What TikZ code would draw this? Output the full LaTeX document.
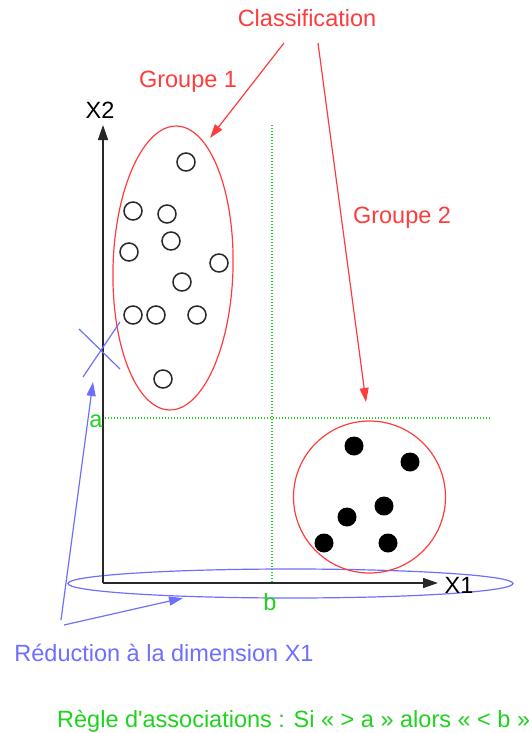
\documentclass[tikz,border=0pt]{standalone}
\usepackage{fontspec}
\setmainfont{Liberation Sans}
\newfontfamily\plainsans{Liberation Sans}
\usetikzlibrary{arrows.meta,shapes.geometric}
\definecolor{myred}{RGB}{255,60,60}
\definecolor{myblue}{RGB}{110,110,255}
\definecolor{mygreen}{RGB}{30,210,30}
\definecolor{axisgray}{RGB}{40,40,40}
\tikzset{
  lbl/.style={font=\plainsans\fontsize{23.5}{28}\selectfont, inner sep=0pt, anchor=base},
  axisline/.style={draw=axisgray, line width=1.5pt, -{Triangle[length=15pt,width=10pt]}},
  redarrow/.style={draw=myred, line width=1.2pt, -{Triangle[length=14pt,width=9pt]}},
  bluearrow/.style={draw=myblue, line width=1.2pt, -{Triangle[length=14pt,width=9pt]}},
  guide/.style={draw=mygreen, line width=1.3pt, dash pattern=on 1.2pt off 1.8pt},
  opendot/.style={circle, draw=axisgray, line width=1.5pt, minimum size=18pt, inner sep=0pt},
  filldot/.style={circle, fill=black, minimum size=19pt, inner sep=0pt},
}
\begin{document}
\begin{tikzpicture}[x=1pt,y=-1pt]
\useasboundingbox (0,0) rectangle (531,733);

% guides
\coordinate (gh1) at (105,418);
\coordinate (gh2) at (490,418);
\coordinate (gv1) at (272,125);
\coordinate (gv2) at (272,583);
\draw[guide] (gh1) -- (gh2);
\draw[guide] (gv1) -- (gv2);

% reduction ellipse
\node[ellipse, draw=myblue, line width=1.2pt, minimum width=445pt, minimum height=29pt, inner sep=0pt] (red1) at (290.5,583.5) {};

% axes
\coordinate (O) at (103,583);
\coordinate (ytip) at (103,125);
\coordinate (xtip) at (438,583);
\draw[axisline] (O) -- (ytip);
\draw[axisline] (O) -- (xtip);
\node[lbl, text=black] (x2) at (100,118) {X2};
\node[lbl, text=black] (x1) at (459,593) {X1};
\node[lbl, text=mygreen] (la) at (96,427) {a};
\node[lbl, text=mygreen] (lb) at (270,610) {b};

% group 1
\node[ellipse, draw=myred, line width=1.2pt, minimum width=120pt, minimum height=284pt, inner sep=0pt, rotate=-1.5] (g1) at (173,268) {};
\foreach \n/\p in {a/{(186,162)}, b/{(133,211)}, c/{(167,214)}, d/{(171,241)}, e/{(129,252)}, f/{(219,263)}, g/{(182,282)}, h/{(133,315)}, i/{(156,315)}, j/{(197,315)}, k/{(163,379)}}
  \node[opendot] (o\n) at \p {};

% group 2
\node[circle, draw=myred, line width=1.2pt, minimum size=152pt, inner sep=0pt] (g2) at (369.5,497) {};
\foreach \n/\p in {a/{(354,446)}, b/{(410,462)}, c/{(384,506)}, d/{(347,517)}, e/{(324,543)}, f/{(388,543)}}
  \node[filldot] (f\n) at \p {};

% cross
\coordinate (c1) at (79,329);
\coordinate (c2) at (120,369);
\coordinate (c3) at (120,322);
\coordinate (c4) at (83,377);
\draw[myblue, line width=1.2pt] (c1) -- (c2);
\draw[myblue, line width=1.2pt] (c3) -- (c4);

% classification
\node[lbl, text=myred] (cls) at (307,27) {Classification};
\node[lbl, text=myred] (grp1) at (188,88) {Groupe 1};
\node[lbl, text=myred] (grp2) at (402,223) {Groupe 2};
\coordinate (r1s) at (284,43);
\coordinate (r1e) at (210,138);
\coordinate (r2s) at (318,43);
\coordinate (r2e) at (366,402);
\draw[redarrow] (r1s) -- (r1e);
\draw[redarrow] (r2s) -- (r2e);

% reduction
\node[lbl, text=myblue] (redtxt) at (164,661) {Réduction à la dimension X1};
\coordinate (b1s) at (61,620);
\coordinate (b1e) at (93,382);
\coordinate (b2s) at (64,625);
\coordinate (b2e) at (183,598);
\draw[bluearrow] (b1s) -- (b1e);
\draw[bluearrow] (b2s) -- (b2e);

% rule
\node[lbl, text=mygreen, anchor=base west] (rule) at (57,727) {Règle d'associations : Si « > a » alors « < b »};
\end{tikzpicture}
\end{document}
